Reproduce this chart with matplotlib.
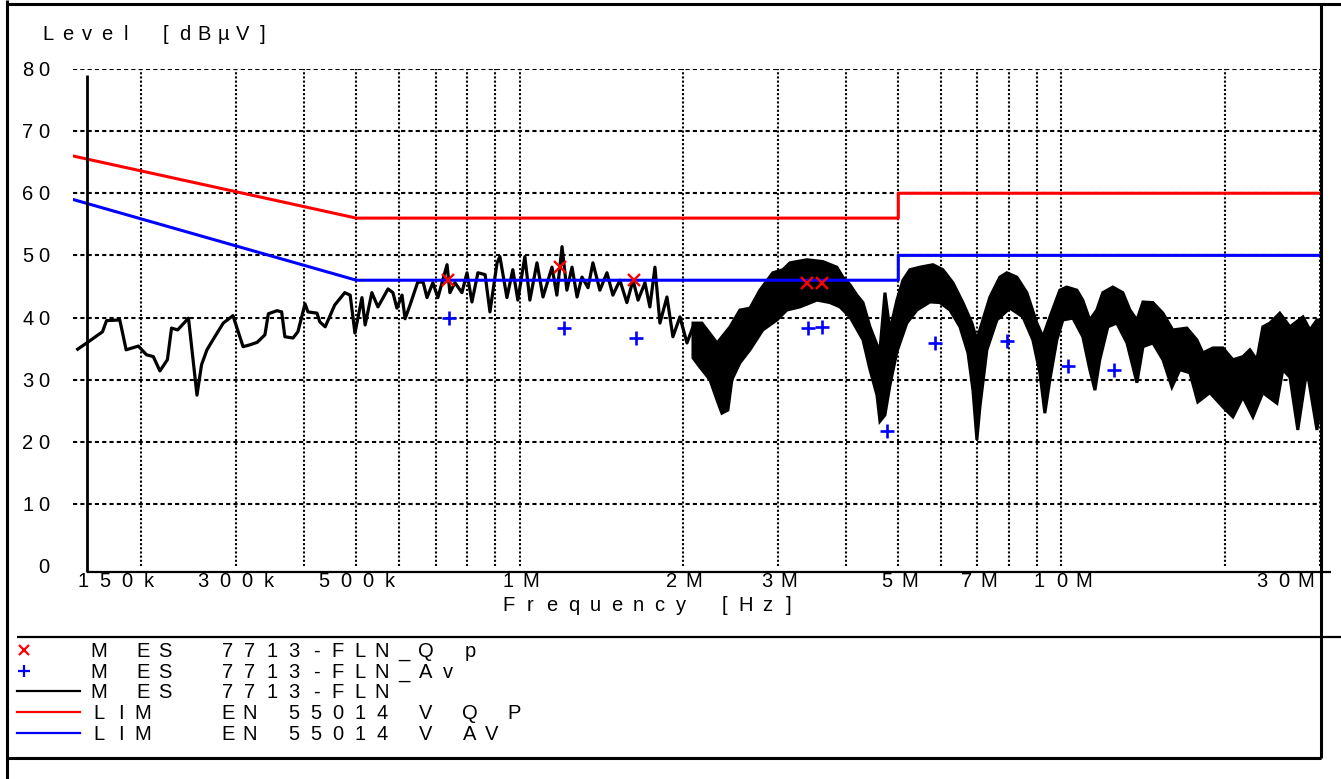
import numpy as np
import matplotlib.pyplot as plt

# ---- measured spectrum, MES 7713-FLN (peak scan) ----
# low band, drawn as a single trace: frequency [kHz], level [dBuV]
scan_f = [153, 159, 170, 173, 183, 188, 198, 205, 211, 217, 224, 228, 234, 245,
          254, 259, 265, 274, 284, 296, 309, 318, 328, 339, 344, 357, 364, 369,
          382, 390, 402, 407, 423, 428, 438, 456, 476, 487, 497, 512, 519, 534,
          548, 572, 584, 594, 607, 615, 628, 649, 664, 675, 692, 707, 735, 744,
          760, 783, 800, 817, 838, 864, 882, 909, 920, 948, 972, 993, 1023, 1045,
          1077, 1105, 1148, 1172, 1198, 1223, 1250, 1277, 1304, 1338, 1366, 1407,
          1450, 1487, 1532, 1578, 1620, 1655, 1704, 1740, 1778, 1816, 1871, 1919,
          1977, 2037, 2090, 2135]
scan_db = [34.9, 35.9, 37.7, 39.5, 39.6, 34.8, 35.4, 34.0, 33.7, 31.4, 33.2, 38.3,
           38.0, 39.9, 27.5, 32.4, 34.8, 36.9, 39.1, 40.3, 35.3, 35.6, 36.0, 37.2,
           40.6, 41.1, 40.9, 36.9, 36.7, 37.7, 42.2, 40.9, 40.7, 39.3, 38.5, 42.0,
           44.0, 43.6, 37.5, 43.2, 38.8, 44.0, 41.7, 44.6, 44.0, 41.5, 43.6, 39.8,
           42.0, 45.7, 45.7, 43.2, 45.6, 43.2, 48.5, 44.0, 45.6, 44.0, 47.2, 42.5,
           47.2, 46.9, 40.9, 48.8, 49.8, 43.2, 47.7, 42.8, 49.8, 42.8, 48.8, 43.3,
           48.1, 43.6, 51.4, 44.4, 48.1, 43.3, 46.5, 44.8, 48.8, 44.4, 47.2, 43.6,
           46.0, 42.4, 46.0, 42.8, 45.6, 41.7, 48.1, 39.1, 43.3, 36.9, 40.1, 35.9,
           38.5, 33.5]

# high band, dense scan drawn as a band between its upper and lower envelope
top_f = [2090, 2171, 2315, 2446, 2551, 2662, 2777, 2934, 3063, 3155, 3391, 3630,
         3852, 3951, 4071, 4194, 4303, 4433, 4567, 4625, 4724, 4826, 4971, 5099,
         5253, 5479, 5793, 6043, 6306, 6579, 6836, 6982, 7132, 7379, 7698, 7930,
         8274, 8634, 9009, 9243, 9522, 9933, 10230, 10680, 10950, 11280, 11620,
         11920, 12440, 12980, 13380, 13780, 14140, 14750, 15390, 16050, 17040,
         17780, 18240, 19030, 19860, 20720, 21620, 22270, 22940, 23530, 24240,
         25290, 26400, 27900, 28740, 29610, 30000]
top_db = [39.1, 39.1, 35.9, 38.5, 41.2, 41.5, 44.4, 47.2, 47.7, 48.8, 49.3, 49.0,
          48.1, 46.5, 45.3, 43.6, 42.4, 38.5, 35.6, 34.8, 44.0, 38.0, 42.8, 46.0,
          47.7, 48.1, 48.5, 47.7, 45.6, 42.4, 39.1, 36.4, 39.1, 43.3, 46.5, 47.2,
          46.5, 44.0, 39.1, 36.9, 40.1, 44.4, 44.9, 44.4, 42.8, 39.6, 41.2, 44.0,
          44.9, 44.0, 41.2, 39.6, 42.5, 42.4, 40.7, 38.0, 38.3, 36.4, 34.3, 35.1,
          35.1, 33.2, 33.7, 34.8, 33.2, 38.5, 39.1, 40.7, 38.5, 40.1, 38.0, 39.6,
          39.6]
bot_f = [2090, 2153, 2245, 2315, 2363, 2424, 2466, 2551, 2662, 2812, 2985, 3114,
         3291, 3539, 3739, 3902, 4071, 4303, 4433, 4567, 4625, 4724, 4826, 4971,
         5185, 5411, 5720, 5967, 6227, 6497, 6722, 6866, 6982, 7073, 7286, 7602,
         8034, 8490, 8856, 9123, 9320, 9522, 9807, 10060, 10500, 10950, 11280,
         11530, 11770, 12180, 12650, 13210, 13780, 14140, 14750, 15390, 15990,
         16540, 17260, 17850, 18790, 19860, 20720, 21620, 22560, 23530, 24980,
         25620, 26400, 27300, 28380, 29610, 30000]
bot_db = [33.5, 32.0, 30.0, 26.7, 24.6, 25.1, 30.0, 32.7, 34.8, 38.0, 39.6, 41.2,
          41.7, 42.8, 42.4, 41.7, 40.1, 36.4, 31.6, 27.5, 23.3, 24.3, 29.1, 34.5,
          39.1, 41.2, 42.5, 42.4, 41.2, 38.5, 34.3, 28.3, 20.3, 25.6, 34.8, 39.6,
          41.5, 40.1, 36.4, 31.1, 24.6, 30.0, 36.4, 39.6, 39.9, 36.9, 31.6, 28.3,
          33.2, 38.5, 39.1, 35.9, 29.5, 35.3, 35.9, 33.2, 28.8, 31.6, 31.1, 26.4,
          27.9, 25.6, 24.0, 27.2, 24.0, 27.9, 26.2, 31.6, 30.4, 21.9, 31.6, 21.9,
          25.1]

# ---- final measurements ----
qp_f = [738, 1190, 1630, 3390, 3610]            # kHz
qp_db = [46.0, 48.1, 46.0, 45.6, 45.6]
av_f = [741, 1210, 1640, 3410, 3620, 4760, 5840, 7950, 10300, 12500]
av_db = [40.0, 38.3, 36.7, 38.3, 38.5, 21.7, 35.9, 36.2, 32.2, 31.6]

# ---- EN 55014 limit lines ----
lim_f = [150, 500, 5000, 5000, 30000]           # kHz
lim_qp = [66, 56, 56, 60, 60]
lim_av = [59, 46, 46, 50, 50]

# axis ticks and grid
grid_f = [200, 300, 400, 500, 600, 700, 800, 900, 1000, 2000, 3000, 4000, 5000,
          6000, 7000, 8000, 9000, 10000, 20000, 30000]
xtick_f = [150, 300, 500, 1000, 2000, 3000, 5000, 7000, 10000, 30000]
xtick_lab = ['150k', '300k', '500k', '1M', '2M', '3M', '5M', '7M', '10M', '30M']
ytick_v = [0, 10, 20, 30, 40, 50, 60, 70, 80]

legend_mark = ['x', '+', None, None, None]
legend_col = ['red', 'blue', 'black', 'red', 'blue']
legend_a = ['M ES', 'M ES', 'M ES', 'LIM', 'LIM']
legend_b = ['7713-FLN_Q p', '7713-FLN_Av', '7713-FLN', 'EN 55014 V Q P',
            'EN 55014 V AV']

W, H = 1341, 779
fig = plt.figure(figsize=(W / 100, H / 100), dpi=100, facecolor='white')

# plot area in pixels: 150 kHz at x=73, 30 MHz at x=1320, 0 dB at y=566, 80 dB at y=69
X0, X1, YB, YT = 73, 1320, 566, 69
ax = fig.add_axes([X0 / W, 1 - YB / H, (X1 - X0) / W, (YB - YT) / H])
ax.set_xscale('log')
ax.set_xlim(150e3, 30e6)
ax.set_ylim(0, 80)
ax.axis('off')

for f in grid_f:
    ax.axvline(f * 1e3, color='black', lw=1.5, ls=(0, (1, 1)), zorder=1)
for v in ytick_v[1:]:
    ax.axhline(v, color='black', lw=1.5, ls=(0, (2, 1.5)), zorder=1)

lf = np.array(lim_f) * 1e3
ax.plot(lf, lim_qp, color='red', lw=2.2, zorder=3)
ax.plot(lf, lim_av, color='blue', lw=2.2, zorder=3)

ax.plot(np.array(scan_f) * 1e3, scan_db, color='black', lw=2.3, zorder=2)
band_f = np.r_[top_f, bot_f[::-1]] * 1e3
band_db = np.r_[top_db, bot_db[::-1]]
ax.fill(band_f, band_db, facecolor='black', edgecolor='black', lw=2.2,
        joinstyle='miter', zorder=2)

ax.plot(np.array(qp_f) * 1e3, qp_db, ls='none', marker='x', ms=8, mew=1.7,
        color='red', zorder=4)
ax.plot(np.array(av_f) * 1e3, av_db, ls='none', marker='+', ms=10, mew=1.9,
        color='blue', zorder=4)

# overlay in pixel units for the frame, axes lines and letter-spaced labels
ov = fig.add_axes([0, 0, 1, 1], zorder=5)
ov.set_xlim(0, W)
ov.set_ylim(H, 0)
ov.axis('off')
ov.patch.set_alpha(0)

TXT = dict(family='Liberation Sans', fontsize=14.5, color='black')


def tracked(x, y, s, pitch, ha='left', **kw):
    # one glyph per cell, cells `pitch` px apart; y is the text's mid height
    n = len(s)
    if ha == 'center':
        x = x - (n - 1) * pitch / 2
    elif ha == 'right':
        x = x - (n - 1) * pitch
    for i, ch in enumerate(s):
        if ch != ' ':
            ov.text(x + i * pitch, y + 7, ch, ha='center', va='baseline',
                    **{**TXT, **kw})


def seg(x, y, **kw):
    ov.plot(x, y, color='black', solid_capstyle='butt', clip_on=False, **kw)


# outer frame
seg([7, 7], [0, H], lw=2.2)
seg([7, W], [4, 4], lw=2.2)
seg([1321, 1321], [4, 758], lw=2.2)
seg([7, 1321], [758, 758], lw=2.2)
seg([17, W], [637, 637], lw=1.6)
# axis lines
seg([87, 87], [75, 572], lw=2.0)
seg([87, 1331], [572, 572], lw=1.6)


def to_px(f, v):
    dx, dy = ax.transData.transform((f, v))
    return dx, H - dy


for v in ytick_v:
    _, py = to_px(150e3, v)
    tracked(44, py, str(v), 16, ha='right')

for i, (f, lab) in enumerate(zip(xtick_f, xtick_lab)):
    px, _ = to_px(f * 1e3, 0)
    if i == 0:
        tracked(83, 580, lab, 22, ha='left')
    elif i == len(xtick_f) - 1:
        tracked(1306, 580, lab, 22, ha='right')
    else:
        tracked(px, 580, lab, 22, ha='center')

tracked(48, 33, 'Level [dBµV]', 19.5)
tracked(509, 604, 'Frequency [Hz]', 21.5)

# legend block
rows = [650, 671, 691, 712, 733]
for y, mk, col, a, b in zip(rows, legend_mark, legend_col, legend_a, legend_b):
    if mk:
        ov.plot([24], [y], marker=mk, ms=7 if mk == 'x' else 9, mew=1.6,
                color=col, ls='none', clip_on=False)
    else:
        ov.plot([17, 80], [y, y], color=col, lw=1.6, clip_on=False)
    tracked(99, y, a, 22)
    tracked(228, y, b, 22)

fig.savefig('out.png', dpi=100, facecolor='white')
